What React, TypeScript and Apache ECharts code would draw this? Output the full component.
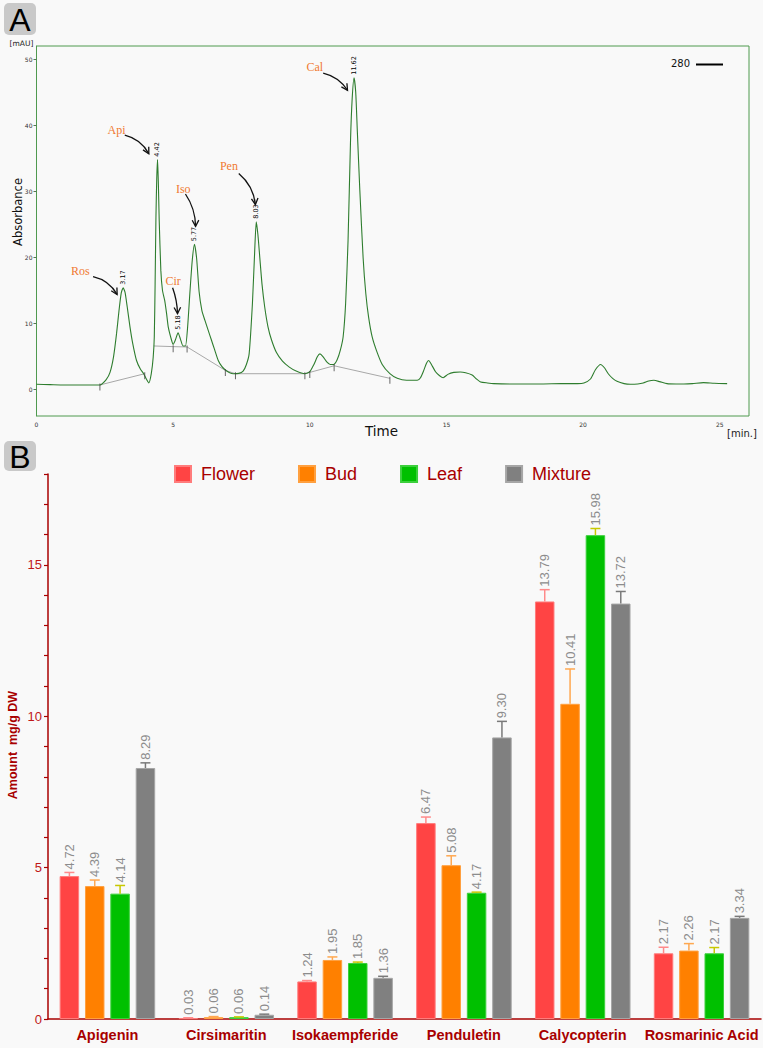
import React, { useEffect, useRef } from "react";
import * as echarts from "echarts";

// ---------- Panel A : chromatogram (time [min], absorbance [mAU]) ----------
const chromatogram: [number, number][] = [
  [0, 0.8], [0.5, 0.75], [1.0, 0.7], [1.5, 0.7], [2.0, 0.7], [2.32, 0.7], [2.55, 1.5], [2.69, 2.6],
  [2.82, 5], [2.93, 8.5], [3.02, 12], [3.1, 14.6], [3.17, 15.4], [3.24, 14.7], [3.32, 12.5], [3.42, 9.5],
  [3.52, 7], [3.66, 4.4], [3.8, 3.1], [3.92, 2.4], [4.02, 1.6], [4.11, 1.0], [4.2, 2.4], [4.27, 4.9],
  [4.31, 8], [4.34, 16], [4.37, 26], [4.4, 32], [4.43, 34.8], [4.46, 31], [4.49, 25.6], [4.55, 18],
  [4.61, 15], [4.69, 13.5], [4.76, 11.5], [4.82, 9.5], [4.94, 7.5], [5.0, 6.85], [5.08, 7.5], [5.18, 8.6],
  [5.27, 7.6], [5.36, 6.6], [5.45, 6.6], [5.53, 9.5], [5.61, 14.5], [5.7, 19.6], [5.78, 22.0], [5.86, 19.8],
  [5.95, 14.8], [6.05, 12], [6.16, 10.5], [6.28, 9], [6.4, 7.5], [6.52, 6], [6.65, 4.4], [6.78, 3.5],
  [6.9, 3.0], [7.05, 2.6], [7.2, 2.4], [7.4, 2.45], [7.56, 2.8], [7.68, 3.8], [7.78, 5.4], [7.9, 13],
  [7.98, 20.6], [8.04, 25.4], [8.1, 23.5], [8.17, 20], [8.25, 16], [8.35, 12.5], [8.47, 9.5], [8.6, 7.5],
  [8.78, 5.6], [9.0, 4.3], [9.25, 3.4], [9.5, 2.8], [9.82, 2.4], [10.0, 2.7], [10.15, 3.8], [10.28, 5.0],
  [10.37, 5.4], [10.48, 5.0], [10.62, 4.2], [10.75, 3.8], [10.87, 3.8], [11.0, 4.5], [11.12, 6], [11.22, 8],
  [11.31, 13], [11.4, 22.6], [11.49, 37.7], [11.55, 44], [11.62, 47.2], [11.68, 45], [11.74, 39], [11.83, 30.2],
  [11.95, 20], [12.05, 14.5], [12.15, 11], [12.28, 8], [12.44, 5.9], [12.65, 3.8], [12.93, 2.4], [13.2, 1.7],
  [13.54, 1.4], [13.93, 1.4], [14.05, 1.8], [14.17, 2.9], [14.27, 4], [14.35, 4.4], [14.45, 3.8], [14.6, 2.7],
  [14.75, 2.1], [14.88, 1.8], [15.05, 2.3], [15.27, 2.6], [15.5, 2.65], [15.7, 2.55], [15.94, 2.2], [16.1, 1.6],
  [16.25, 1.15], [16.5, 1.0], [16.73, 0.9], [17.5, 0.85], [18.5, 0.85], [19.2, 0.9], [19.8, 0.9], [20.03, 1.0],
  [20.27, 1.6], [20.45, 3.0], [20.64, 3.8], [20.78, 3.3], [20.92, 2.4], [21.08, 1.7], [21.24, 1.25], [21.5, 0.9],
  [21.73, 0.8], [22.0, 0.85], [22.2, 1.0], [22.4, 1.3], [22.59, 1.4], [22.8, 1.2], [23.07, 0.9], [23.4, 0.85],
  [23.69, 0.85], [24.0, 0.9], [24.4, 1.05], [24.8, 0.95], [25.27, 0.9],
];

const baselineA: [number, number][] = [[2.32, 0.7], [3.96, 2.4]];
const baselineB: [number, number][] = [
  [4.29, 6.6], [5.0, 6.5], [5.51, 6.45], [6.91, 2.9], [7.28, 2.4], [9.82, 2.4], [10.0, 2.6], [10.89, 3.6], [12.93, 1.7],
];
const integrationMarks: [number, number][] = [
  [2.32, 0.7], [3.96, 2.4], [5.0, 6.5], [5.51, 6.45], [6.91, 2.9], [7.28, 2.4], [9.82, 2.4], [10.0, 2.6], [10.89, 3.6], [12.93, 1.7],
];

const peakTimes = [3.17, 4.42, 5.18, 5.77, 8.03, 11.62];
const peakHeights = [15.4, 34.8, 8.6, 22.0, 25.4, 47.2];
const peakTexts = ["3.17", "4.42", "5.18", "5.77", "8.03", "11.62"];

const compoundNames = ["Ros", "Api", "Cir", "Iso", "Pen", "Cal"];
const compoundNameT = [1.6, 2.93, 5.0, 5.37, 7.04, 10.18];
const compoundNameV = [18.0, 39.3, 16.4, 30.4, 33.8, 48.8];
// arrow: [tStart, vStart, tEnd, vEnd]
const arrows: [number, number, number, number][] = [
  [2.07, 17.1, 2.95, 14.4],
  [3.23, 38.5, 4.11, 35.7],
  [4.98, 15.4, 5.16, 11.5],
  [5.45, 29.6, 5.82, 24.7],
  [7.4, 32.7, 8.01, 28.0],
  [10.49, 47.9, 11.38, 45.3],
];
const arrowBend = [0.22, 0.22, 0.08, 0.15, 0.2, 0.2];

const chromXTicks = [0, 5, 10, 15, 20, 25];
const chromYTicks = [0, 10, 20, 30, 40, 50];

// ---------- Panel B : amounts (mg/g DW) ----------
const categories = ["Apigenin", "Cirsimaritin", "Isokaempferide", "Penduletin", "Calycopterin", "Rosmarinic Acid"];
const seriesNames = ["Flower", "Bud", "Leaf", "Mixture"];
const flower = [4.72, 0.03, 1.24, 6.47, 13.79, 2.17];
const bud = [4.39, 0.06, 1.95, 5.08, 10.41, 2.26];
const leaf = [4.14, 0.06, 1.85, 4.17, 15.98, 2.17];
const mixture = [8.29, 0.14, 1.36, 9.3, 13.72, 3.34];
const flowerErr = [0.12, 0.01, 0.03, 0.2, 0.39, 0.2];
const budErr = [0.2, 0.02, 0.1, 0.31, 1.15, 0.23];
const leafErr = [0.27, 0.01, 0.03, 0.02, 0.22, 0.19];
const mixtureErr = [0.17, 0.02, 0.05, 0.53, 0.4, 0.05];

const values = [flower, bud, leaf, mixture];
const errors = [flowerErr, budErr, leafErr, mixtureErr];

const barColors = ["#ff4444", "#ff8000", "#00c000", "#808080"];
const barBorders = ["#ff7c7c", "#ffa040", "#3ccf3c", "#a6a6a6"];
const errColors = ["#ff8a8a", "#ffa850", "#c8c800", "#7a7a7a"];

const BAR_W = 19.5;
const BAR_GAP = 0.3;

export default function App() {
  const ref = useRef<HTMLDivElement>(null);

  useEffect(() => {
    const chart = echarts.init(ref.current!, null, { renderer: "svg" });
    const step = BAR_W * (1 + BAR_GAP);
    const offsets = [-1.5 * step, -0.5 * step, 0.5 * step, 1.5 * step];
    const darkRed = "#a80000";
    const sans = "Liberation Sans";
    const verd = "DejaVu Sans";

    const barSeries = seriesNames.map((name, si) => ({
      name,
      type: "bar",
      xAxisIndex: 1,
      yAxisIndex: 1,
      barWidth: BAR_W,
      barGap: BAR_GAP * 100 + "%",
      data: values[si],
      itemStyle: { color: barColors[si], borderColor: barBorders[si], borderWidth: 1 },
      z: 2,
    }));

    const errSeries = seriesNames.map((name, si) => ({
      name: name + " SD",
      type: "custom",
      xAxisIndex: 1,
      yAxisIndex: 1,
      z: 4,
      data: values[si].map((v, i) => [i, v, errors[si][i]]),
      renderItem: (params: any, api: any) => {
        const ci = api.value(0);
        const v = api.value(1);
        const e = api.value(2);
        const base = api.coord([ci, v]);
        const top = api.coord([ci, v + e]);
        const x = base[0] + offsets[si];
        return {
          type: "group",
          children: [
            { type: "line", shape: { x1: x, y1: base[1], x2: x, y2: top[1] }, style: { stroke: errColors[si], lineWidth: 1.5 } },
            { type: "line", shape: { x1: x - 5, y1: top[1], x2: x + 5, y2: top[1] }, style: { stroke: errColors[si], lineWidth: 1.5 } },
            {
              type: "text",
              x: x,
              y: top[1] - 3,
              rotation: Math.PI / 2,
              style: {
                text: v.toFixed(2),
                fontSize: 13,
                fontFamily: sans,
                fill: "#8c8c8c",
                align: "left",
                verticalAlign: "middle",
              },
            },
          ],
        };
      },
    }));

    const option: any = {
      animation: false,
      backgroundColor: "#f9f9f9",
      legend: {
        data: seriesNames,
        left: 174,
        top: 465,
        padding: 0,
        itemWidth: 16,
        itemHeight: 16,
        itemGap: 43,
        icon: "rect",
        textStyle: { fontSize: 18, color: darkRed, fontFamily: sans, padding: [0, 0, 0, 5] },
      },
      grid: [
        { left: 36.5, top: 46, width: 712.5, height: 370, show: true, borderColor: "#4f9a4f", borderWidth: 1, backgroundColor: "transparent" },
        { left: 48, top: 474, width: 713, height: 545 },
      ],
      xAxis: [
        {
          type: "value",
          gridIndex: 0,
          min: 0,
          max: 26.07,
          axisLine: { show: false },
          axisTick: { show: false },
          splitLine: { show: false },
          axisLabel: { customValues: chromXTicks, fontSize: 6, color: "#333", fontFamily: verd, margin: 5 },
        },
        {
          type: "category",
          gridIndex: 1,
          data: categories,
          axisLine: { lineStyle: { color: darkRed, width: 1.5 } },
          axisTick: { alignWithLabel: true, length: 5, lineStyle: { color: darkRed, width: 1.5 } },
          axisLabel: { fontSize: 14.5, fontWeight: "bold", color: darkRed, fontFamily: sans, margin: 8, interval: 0 },
        },
      ],
      yAxis: [
        {
          type: "value",
          gridIndex: 0,
          min: -4,
          max: 52,
          axisLine: { show: true, lineStyle: { color: "#4f9a4f" } },
          axisTick: { show: true, customValues: chromYTicks, length: 3, lineStyle: { color: "#557755" } },
          splitLine: { show: false },
          axisLabel: { customValues: chromYTicks, fontSize: 6, color: "#333", fontFamily: verd, margin: 4 },
        },
        {
          type: "value",
          gridIndex: 1,
          min: 0,
          max: 18,
          interval: 1,
          axisLine: { show: true, lineStyle: { color: darkRed, width: 1.5 } },
          axisTick: { show: true, length: 4, lineStyle: { color: darkRed, width: 1.2 } },
          splitLine: { show: false },
          axisLabel: {
            fontSize: 13,
            color: "#c01818",
            fontFamily: sans,
            margin: 6,
            formatter: (v: number) => (v % 5 === 0 ? String(v) : ""),
          },
        },
      ],
      series: [
        {
          name: "baselineA",
          type: "line",
          xAxisIndex: 0,
          yAxisIndex: 0,
          data: baselineA,
          showSymbol: false,
          lineStyle: { color: "#a8a8a8", width: 1 },
          z: 1,
        },
        {
          name: "baselineB",
          type: "line",
          xAxisIndex: 0,
          yAxisIndex: 0,
          data: baselineB,
          showSymbol: false,
          lineStyle: { color: "#a8a8a8", width: 1 },
          z: 1,
        },
        {
          name: "280",
          type: "line",
          xAxisIndex: 0,
          yAxisIndex: 0,
          data: chromatogram,
          showSymbol: false,
          smooth: 0.2,
          lineStyle: { color: "#2e7d2e", width: 1.1 },
          z: 3,
        },
        {
          name: "marks",
          type: "scatter",
          xAxisIndex: 0,
          yAxisIndex: 0,
          data: integrationMarks,
          symbol: "rect",
          symbolSize: [1, 7],
          symbolOffset: [0, 2],
          itemStyle: { color: "#444" },
          z: 4,
        },
        {
          name: "rt",
          type: "custom",
          xAxisIndex: 0,
          yAxisIndex: 0,
          data: peakTimes.map((t, i) => [t, peakHeights[i]]),
          z: 5,
          renderItem: (params: any, api: any) => {
            const p = api.coord([api.value(0), api.value(1)]);
            return {
              type: "text",
              x: p[0],
              y: p[1] - 3,
              rotation: Math.PI / 2,
              style: { text: peakTexts[params.dataIndex], fontSize: 6.5, fontFamily: verd, fill: "#000", align: "left", verticalAlign: "middle" },
            };
          },
        },
        {
          name: "names",
          type: "custom",
          xAxisIndex: 0,
          yAxisIndex: 0,
          data: compoundNameT.map((t, i) => [t, compoundNameV[i]]),
          z: 5,
          renderItem: (params: any, api: any) => {
            const p = api.coord([api.value(0), api.value(1)]);
            return {
              type: "text",
              x: p[0],
              y: p[1],
              style: { text: compoundNames[params.dataIndex], fontSize: 12, fontFamily: "Liberation Serif", fill: "#f07a32", align: "center", verticalAlign: "middle" },
            };
          },
        },
        {
          name: "arrows",
          type: "custom",
          xAxisIndex: 0,
          yAxisIndex: 0,
          data: arrows,
          encode: { x: [0, 2], y: [1, 3] },
          z: 5,
          renderItem: (params: any, api: any) => {
            const s = api.coord([api.value(0), api.value(1)]);
            const e = api.coord([api.value(2), api.value(3)]);
            const dx = e[0] - s[0];
            const dy = e[1] - s[1];
            const k = arrowBend[params.dataIndex];
            const cx = (s[0] + e[0]) / 2 + dy * k;
            const cy = (s[1] + e[1]) / 2 - dx * k;
            let ux = e[0] - cx;
            let uy = e[1] - cy;
            const len = Math.sqrt(ux * ux + uy * uy) || 1;
            ux /= len;
            uy /= len;
            const L = 7;
            const a = (28 * Math.PI) / 180;
            const rot = (x: number, y: number, ang: number) => [x * Math.cos(ang) - y * Math.sin(ang), x * Math.sin(ang) + y * Math.cos(ang)];
            const r1 = rot(-ux, -uy, a);
            const r2 = rot(-ux, -uy, -a);
            return {
              type: "group",
              children: [
                {
                  type: "bezierCurve",
                  shape: { x1: s[0], y1: s[1], x2: e[0], y2: e[1], cpx1: cx, cpy1: cy },
                  style: { stroke: "#111", lineWidth: 1.3, fill: null },
                },
                {
                  type: "polyline",
                  shape: { points: [[e[0] + r1[0] * L, e[1] + r1[1] * L], [e[0], e[1]], [e[0] + r2[0] * L, e[1] + r2[1] * L]] },
                  style: { stroke: "#111", lineWidth: 1.3, fill: null },
                },
              ],
            };
          },
        },
        ...barSeries,
        ...errSeries,
      ],
      graphic: [
        { type: "rect", shape: { x: 763, y: 0, width: 5, height: 1048 }, style: { fill: "#ffffff" }, silent: true },
        { type: "rect", shape: { x: 4, y: 3, width: 32, height: 32, r: 5 }, style: { fill: "#c9c9c9" } },
        { type: "text", x: 20, y: 19.5, style: { text: "A", fontSize: 32, fontFamily: sans, fill: "#000", align: "center", verticalAlign: "middle" } },
        { type: "rect", shape: { x: 4, y: 441, width: 32, height: 30, r: 5 }, style: { fill: "#c9c9c9" } },
        { type: "text", x: 20, y: 456.5, style: { text: "B", fontSize: 32, fontFamily: sans, fill: "#000", align: "center", verticalAlign: "middle" } },
        { type: "text", x: 21.5, y: 43.5, style: { text: "[mAU]", fontSize: 7.5, fontFamily: verd, fill: "#222", align: "center", verticalAlign: "middle" } },
        { type: "text", x: 18, y: 212, rotation: Math.PI / 2, style: { text: "Absorbance", fontSize: 11.5, fontFamily: verd, fill: "#111", align: "center", verticalAlign: "middle" } },
        { type: "text", x: 381.5, y: 431, style: { text: "Time", fontSize: 13.5, fontFamily: verd, fill: "#111", align: "center", verticalAlign: "middle" } },
        { type: "text", x: 742, y: 433, style: { text: "[min.]", fontSize: 10, fontFamily: verd, fill: "#222", align: "center", verticalAlign: "middle" } },
        { type: "text", x: 680.5, y: 63.5, style: { text: "280", fontSize: 10, fontFamily: verd, fill: "#111", align: "center", verticalAlign: "middle" } },
        { type: "line", shape: { x1: 696, y1: 64.5, x2: 723, y2: 64.5 }, style: { stroke: "#000", lineWidth: 2 } },
        {
          type: "text",
          x: 13,
          y: 745,
          rotation: Math.PI / 2,
          style: { text: "Amount  mg/g DW", fontSize: 12.5, fontWeight: "bold", fontFamily: sans, fill: darkRed, align: "center", verticalAlign: "middle" },
        },
      ],
    };

    chart.setOption(option);
    return () => chart.dispose();
  }, []);

  return (
    <div
      ref={ref}
      style={{ position: "absolute", left: 0, top: 0, width: 768, height: 1048, background: "#f9f9f9" }}
    />
  );
}
